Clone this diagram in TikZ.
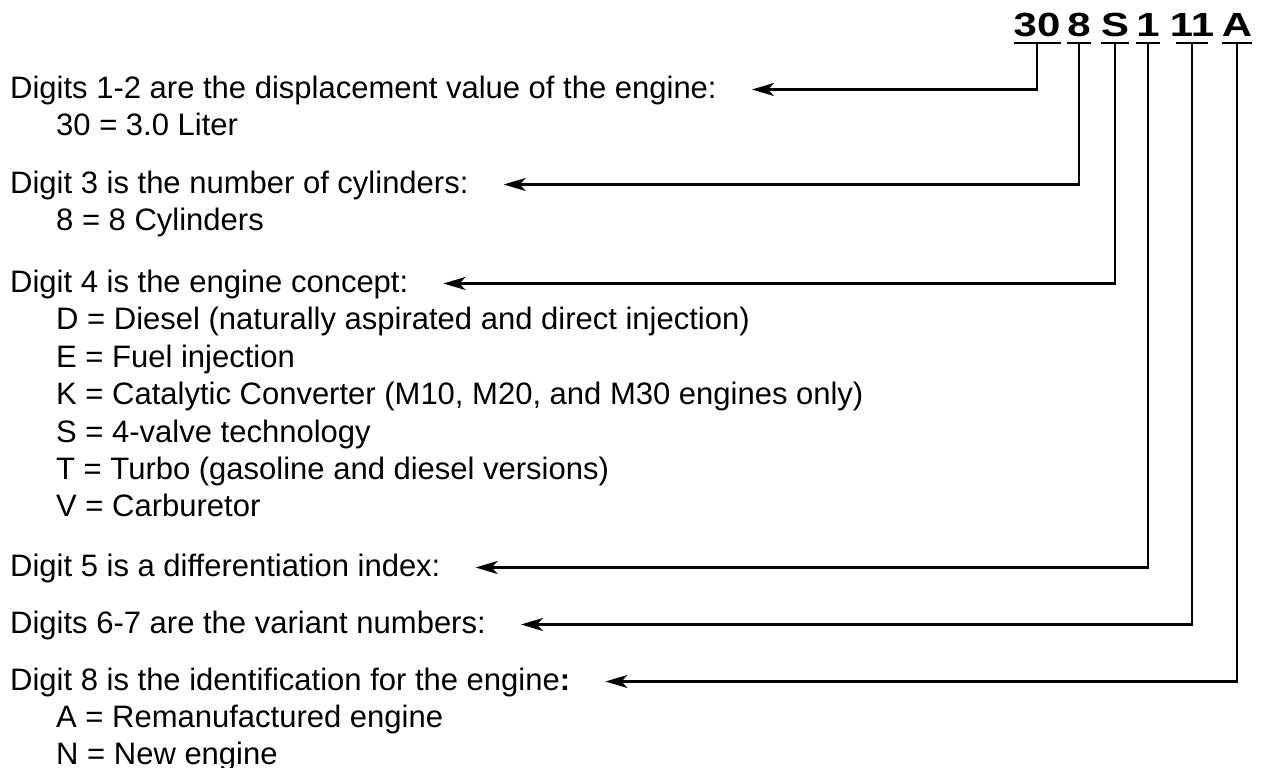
\documentclass[tikz,border=0pt]{standalone}
\usepackage{fontspec}
\setmainfont{Liberation Sans}
\usepackage{graphicx}
\usetikzlibrary{arrows.meta,calc}
\begin{document}
\begin{tikzpicture}[x=1pt,y=-1pt,
  txt/.style={anchor=base west,inner sep=0pt,font=\fontsize{31}{37}\selectfont},
  code/.style={anchor=base,inner sep=0pt,font=\fontsize{33.5}{40}\selectfont\bfseries},
  conn/.style={line width=2.4pt,-{Stealth[length=22pt,width=13pt,inset=6pt]}},
  uline/.style={line width=2.4pt}]
\useasboundingbox (0,0) rectangle (1261,768);

% code characters
\node[code] (d1) at (1037,37) {\scalebox{1.25}[1]{30}};
\node[code] (d2) at (1079,37) {\scalebox{1.25}[1]{8}};
\node[code] (d3) at (1115,37) {\scalebox{1.25}[1]{S}};
\node[code] (d4) at (1148,37) {\scalebox{1.25}[1]{1}};
\node[code] (d5) at (1192,37) {\scalebox{1.25}[1]{11}};
\node[code] (d6) at (1237,37) {\scalebox{1.25}[1]{A}};

\foreach \d in {d1,d2,d3,d4,d6}
  \draw[uline] ([yshift=-6pt]\d.base west) -- ([yshift=-6pt]\d.base east);
\draw[uline,shorten <=6.5pt,shorten >=6.5pt] ([yshift=-6pt]d5.base west) -- ([yshift=-6pt]d5.base east);

% texts
\node[txt] (t1) at (10,98) {Digits 1-2 are the displacement value of the engine:};
\node[txt] (s1) at (56,135) {30 = 3.0 Liter};
\node[txt] (t2) at (10,193) {Digit 3 is the number of cylinders:};
\node[txt] (s2) at (56,230) {8 = 8 Cylinders};
\node[txt] (t3) at (10,292) {Digit 4 is the engine concept:};
\node[txt] (s3a) at (56,329) {D = Diesel (naturally aspirated and direct injection)};
\node[txt] (s3b) at (56,367) {E = Fuel injection};
\node[txt] (s3c) at (56,404) {K = Catalytic Converter (M10, M20, and M30 engines only)};
\node[txt] (s3d) at (56,442) {S = 4-valve technology};
\node[txt] (s3e) at (56,479) {T = Turbo (gasoline and diesel versions)};
\node[txt] (s3f) at (56,516) {V = Carburetor};
\node[txt] (t5) at (10,576) {Digit 5 is a differentiation index:};
\node[txt] (t6) at (10,633) {Digits 6-7 are the variant numbers:};
\node[txt] (t8) at (10,690) {Digit 8 is the identification for the engine\textbf{:}};
\node[txt] (s8a) at (56,727) {A = Remanufactured engine};
\node[txt] (s8b) at (56,764) {N = New engine};

% arrow tips
\coordinate (a1) at ($(t1.base east)+(35,-8.5)$);
\coordinate (a2) at ($(t2.base east)+(35,-8.5)$);
\coordinate (a3) at ($(t3.base east)+(35,-8.5)$);
\coordinate (a5) at ($(t5.base east)+(35,-8.5)$);
\coordinate (a6) at ($(t6.base east)+(35,-8.5)$);
\coordinate (a8) at ($(t8.base east)+(35,-8.5)$);

% connectors
\draw[conn] ([yshift=-6pt]d1.base) |- (a1);
\draw[conn] ([yshift=-6pt]d2.base) |- (a2);
\draw[conn] ([yshift=-6pt]d3.base) |- (a3);
\draw[conn] ([yshift=-6pt]d4.base) |- (a5);
\draw[conn] ([yshift=-6pt]d5.base) |- (a6);
\draw[conn] ([yshift=-6pt]d6.base) |- (a8);
\end{tikzpicture}
\end{document}
